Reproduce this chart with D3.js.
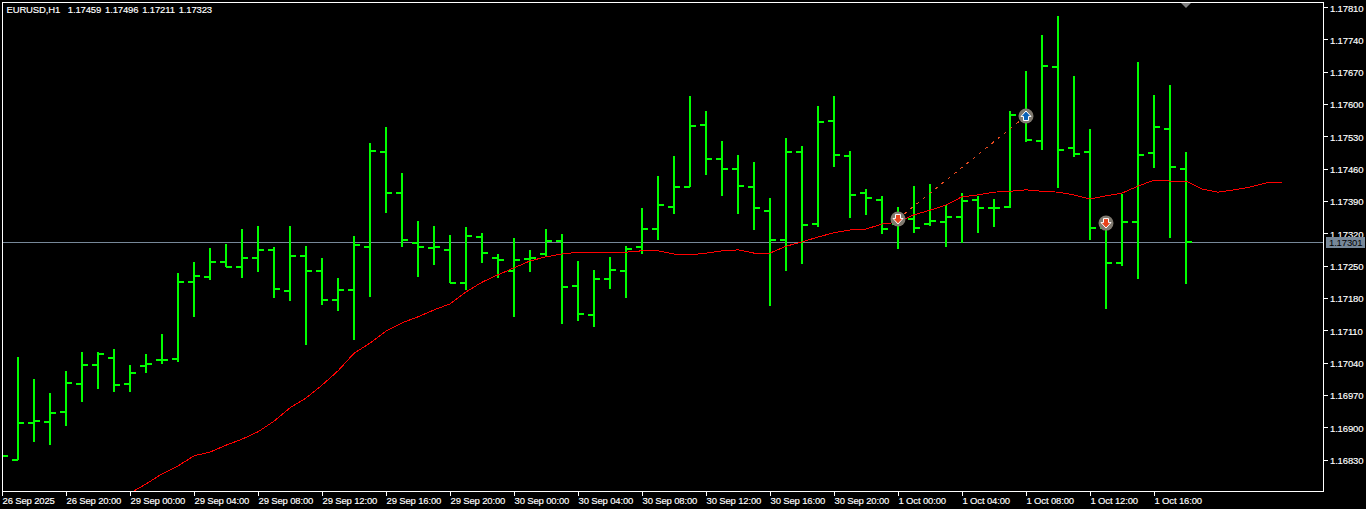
<!DOCTYPE html>
<html>
<head>
<meta charset="utf-8">
<script src="https://cdn.jsdelivr.net/npm/d3@7"></script>
<style>
  html, body { margin: 0; padding: 0; background: #000; overflow: hidden; }
  svg { display: block; }
  text { font-family: "Liberation Sans", sans-serif; font-size: 9.5px; letter-spacing: -0.15px; fill: #fff; stroke: #fff; stroke-width: 0.15px; }
  .axis path { display: none; }
  .axis line { stroke: #fff; shape-rendering: crispEdges; }
  .bar line { stroke: #00ff00; stroke-width: 2; shape-rendering: crispEdges; }
  .ma { fill: none; stroke: #ff0000; stroke-width: 1; shape-rendering: crispEdges; }
</style>
</head>
<body>
<script>
//Width and height
var w = 1366;
var h = 509;

//Hourly bars, 26 Sep 16:00 onwards
var opens = [1.16850,1.16829,1.16909,1.16911,1.16933,1.16994,1.17035,1.17050,1.16994,1.17032,1.17045,1.17048,1.17214,1.17225,1.17258,
  1.17247,1.17266,1.17284,1.17195,1.17271,1.17238,1.17175,1.17197,1.17290,1.17496,1.17407,1.17299,1.17288,1.17284,1.17212,
  1.17312,1.17266,1.17238,1.17264,1.17275,1.17303,1.17206,1.17143,1.17221,1.17238,1.17290,1.17329,1.17377,1.17420,1.17554,
  1.17481,1.17459,1.17420,1.17368,1.17305,1.17496,1.17340,1.17563,1.17487,1.17407,1.17392,1.17340,1.17351,1.17340,1.17344,
  1.17355,1.17392,1.17375,1.17377,1.17572,1.17520,1.17680,1.17505,1.17496,1.17331,1.17256,1.17344,1.17494,1.17546,1.17459];
var highs = [1.16860,1.17052,1.17004,1.16974,1.17022,1.17063,1.17063,1.17069,1.17035,1.17058,1.17102,1.17234,1.17258,1.17288,1.17297,
  1.17329,1.17336,1.17290,1.17336,1.17292,1.17266,1.17223,1.17314,1.17515,1.17550,1.17450,1.17347,1.17336,1.17316,1.17334,
  1.17321,1.17275,1.17310,1.17284,1.17329,1.17318,1.17260,1.17240,1.17269,1.17292,1.17375,1.17444,1.17487,1.17617,1.17585,
  1.17520,1.17489,1.17474,1.17396,1.17526,1.17509,1.17596,1.17617,1.17498,1.17416,1.17401,1.17377,1.17422,1.17427,1.17381,
  1.17407,1.17401,1.17394,1.17585,1.17671,1.17749,1.17791,1.17661,1.17546,1.17357,1.17405,1.17691,1.17619,1.17641,1.17496];
var lows = [1.16828,1.16829,1.16868,1.16861,1.16903,1.16955,1.16983,1.16976,1.16976,1.17017,1.17037,1.17041,1.17139,1.17219,1.17247,
  1.17223,1.17236,1.17180,1.17173,1.17078,1.17165,1.17152,1.17089,1.17182,1.17364,1.17290,1.17225,1.17251,1.17212,1.17197,
  1.17256,1.17223,1.17139,1.17236,1.17271,1.17123,1.17130,1.17117,1.17199,1.17180,1.17275,1.17305,1.17362,1.17420,1.17446,
  1.17401,1.17362,1.17327,1.17162,1.17238,1.17253,1.17334,1.17463,1.17353,1.17360,1.17318,1.17286,1.17321,1.17336,1.17290,
  1.17299,1.17321,1.17334,1.17375,1.17518,1.17500,1.17418,1.17485,1.17305,1.17156,1.17249,1.17221,1.17461,1.17310,1.17211];
var closes = [1.16838,1.16909,1.16913,1.16931,1.16996,1.17035,1.17058,1.16991,1.17017,1.17037,1.17045,1.17214,1.17227,1.17258,1.17247,
  1.17266,1.17284,1.17199,1.17271,1.17238,1.17175,1.17197,1.17295,1.17498,1.17407,1.17305,1.17290,1.17290,1.17212,1.17314,
  1.17277,1.17262,1.17262,1.17266,1.17303,1.17204,1.17145,1.17221,1.17240,1.17286,1.17329,1.17381,1.17420,1.17552,1.17481,
  1.17459,1.17422,1.17375,1.17305,1.17496,1.17338,1.17561,1.17489,1.17403,1.17396,1.17329,1.17351,1.17331,1.17347,1.17355,
  1.17390,1.17375,1.17375,1.17576,1.17522,1.17682,1.17500,1.17492,1.17331,1.17256,1.17344,1.17489,1.17550,1.17463,1.17301];

//Moving average, shifted forward so it starts at bar 8 and runs past the last bar
var maStart = 8;
var maValues = [1.16757,1.16777,1.16799,1.16816,1.16838,1.16846,1.16861,1.16874,1.16890,1.16913,1.16942,1.16963,1.16991,1.17022,1.17060,
  1.17082,1.17108,1.17126,1.17139,1.17154,1.17167,1.17193,1.17214,1.17230,1.17245,1.17260,1.17269,1.17275,1.17279,1.17279,
  1.17279,1.17279,1.17282,1.17282,1.17275,1.17273,1.17277,1.17282,1.17284,1.17277,1.17277,1.17292,1.17301,1.17312,1.17321,
  1.17327,1.17329,1.17340,1.17344,1.17360,1.17370,1.17381,1.17399,1.17403,1.17409,1.17411,1.17414,1.17411,1.17409,1.17403,
  1.17394,1.17401,1.17407,1.17422,1.17435,1.17433,1.17433,1.17416,1.17409,1.17414,1.17420,1.17429,1.17429];

var timeLabels = ["26 Sep 2025","26 Sep 20:00","29 Sep 00:00","29 Sep 04:00","29 Sep 08:00","29 Sep 12:00","29 Sep 16:00","29 Sep 20:00",
  "30 Sep 00:00","30 Sep 04:00","30 Sep 08:00","30 Sep 12:00","30 Sep 16:00","30 Sep 20:00",
  "1 Oct 00:00","1 Oct 04:00","1 Oct 08:00","1 Oct 12:00","1 Oct 16:00"];
var priceTicks = [1.17810,1.17740,1.17670,1.17600,1.17530,1.17460,1.17390,1.17320,1.17250,1.17180,1.17110,1.17040,1.16970,1.16900,1.16830];

var headerText = "EURUSD,H1  1.17459 1.17496 1.17211 1.17323";
var lastPrice = 1.17301;

//Trades
var tradeBars = [56, 64, 69];
var tradePrices = [1.17351, 1.17574, 1.17342];
var tradeDirs = ["sell", "buy", "sell"];

var left = 2, top_ = 2, right = 1323, bottom = 491;

var xScale = d3.scaleLinear().domain([0, 1]).range([2, 18]);
var yScale = d3.scaleLinear().domain([1.17810, 1.16830]).range([7, 459.5]);

function yPix(v) { return Math.round(yScale(v)); }

var svg = d3.select("body")
            .append("svg")
            .attr("width", w)
            .attr("height", h);

svg.append("clipPath")
   .attr("id", "plot")
   .append("rect")
   .attr("x", left)
   .attr("y", top_)
   .attr("width", right - left)
   .attr("height", bottom - top_);

var plot = svg.append("g").attr("clip-path", "url(#plot)");

// price line, under the bars
plot.append("line")
    .attr("x1", left)
    .attr("x2", right)
    .attr("y1", yPix(lastPrice) + 0.5)
    .attr("y2", yPix(lastPrice) + 0.5)
    .attr("stroke", "#778899")
    .attr("shape-rendering", "crispEdges");

// bars
var bars = plot.selectAll("g.bar")
    .data(d3.range(opens.length))
    .enter()
    .append("g")
    .attr("class", "bar");

bars.append("line")
    .attr("x1", function(i) { return xScale(i); })
    .attr("x2", function(i) { return xScale(i); })
    .attr("y1", function(i) { return yPix(highs[i]); })
    .attr("y2", function(i) { return yPix(lows[i]); });

bars.append("line")
    .attr("x1", function(i) { return xScale(i) - 6; })
    .attr("x2", function(i) { return xScale(i); })
    .attr("y1", function(i) { return yPix(opens[i]); })
    .attr("y2", function(i) { return yPix(opens[i]); });

bars.append("line")
    .attr("x1", function(i) { return xScale(i); })
    .attr("x2", function(i) { return xScale(i) + 6; })
    .attr("y1", function(i) { return yPix(closes[i]); })
    .attr("y2", function(i) { return yPix(closes[i]); });

// moving average
var maLine = d3.line()
    .x(function(d, i) { return xScale(i + maStart); })
    .y(function(d) { return yScale(d); });

plot.append("path")
    .datum(maValues)
    .attr("class", "ma")
    .attr("d", maLine);

// dashed line between the first two trades
plot.append("line")
    .attr("x1", xScale(tradeBars[0]))
    .attr("y1", yScale(tradePrices[0]))
    .attr("x2", xScale(tradeBars[1]))
    .attr("y2", yScale(tradePrices[1]))
    .attr("stroke", "#e8491f")
    .attr("stroke-dasharray", "3 5")
    .attr("shape-rendering", "crispEdges");

// trade markers
var arrowDown = "M-2.5,-4.5H2.5V-0.5H5L0,5L-5,-0.5H-2.5Z";
var arrowUp = "M-2.5,4.5H2.5V0.5H5L0,-5L-5,0.5H-2.5Z";

var markers = plot.selectAll("g.trade")
    .data(d3.range(tradeBars.length))
    .enter()
    .append("g")
    .attr("class", "trade")
    .attr("transform", function(i) {
      return "translate(" + xScale(tradeBars[i]) + "," + yScale(tradePrices[i]) + ")";
    });

markers.append("circle")
    .attr("r", 7.5)
    .attr("fill", "#807a70");

markers.append("path")
    .attr("d", function(i) { return tradeDirs[i] == "sell" ? arrowDown : arrowUp; })
    .attr("fill", function(i) { return tradeDirs[i] == "sell" ? "#e8431b" : "#0a63b8"; })
    .attr("stroke", "#fff")
    .attr("stroke-width", 1);

// frame
svg.append("rect")
   .attr("x", left + 0.5)
   .attr("y", top_ + 0.5)
   .attr("width", right - left)
   .attr("height", bottom - top_)
   .attr("fill", "none")
   .attr("stroke", "#fff")
   .attr("shape-rendering", "crispEdges");

// shift marker at the top
svg.append("path")
   .attr("d", d3.line()([[xScale(74) - 5, 3], [xScale(74) + 5, 3], [xScale(74), 8]]))
   .attr("fill", "#808080");

// axes
var xAxis = d3.axisBottom(xScale)
    .tickValues(timeLabels.map(function(d, i) { return i * 4; }))
    .tickFormat(function(d) { return timeLabels[d / 4]; })
    .tickSize(4)
    .tickSizeOuter(0);

var gx = svg.append("g")
    .attr("class", "axis")
    .attr("transform", "translate(0," + (bottom + 1) + ")")
    .call(xAxis);

gx.selectAll("text")
  .attr("text-anchor", "start")
  .attr("x", 0)
  .attr("y", 5)
  .attr("dy", "0.71em");

var yAxis = d3.axisRight(yScale)
    .tickValues(priceTicks)
    .tickFormat(d3.format(".5f"))
    .tickSize(4)
    .tickPadding(2)
    .tickSizeOuter(0);

var gy = svg.append("g")
   .attr("class", "axis")
   .attr("transform", "translate(" + (right + 1) + ",0)")
   .call(yAxis);

gy.selectAll("text").attr("dy", "0.42em");

// last price label
svg.append("rect")
   .attr("x", 1326)
   .attr("y", yPix(lastPrice) - 5)
   .attr("width", 39)
   .attr("height", 11)
   .attr("fill", "#778899");

svg.append("text")
   .attr("x", 1329)
   .attr("y", yPix(lastPrice) + 4)
   .style("fill", "#000")
   .style("stroke", "none")
   .text(d3.format(".5f")(lastPrice));

// header
svg.append("text")
   .attr("x", 6.5)
   .attr("y", 13)
   .attr("xml:space", "preserve")
   .style("white-space", "pre")
   .style("word-spacing", "1.4px")
   .text(headerText);
</script>
</body>
</html>
